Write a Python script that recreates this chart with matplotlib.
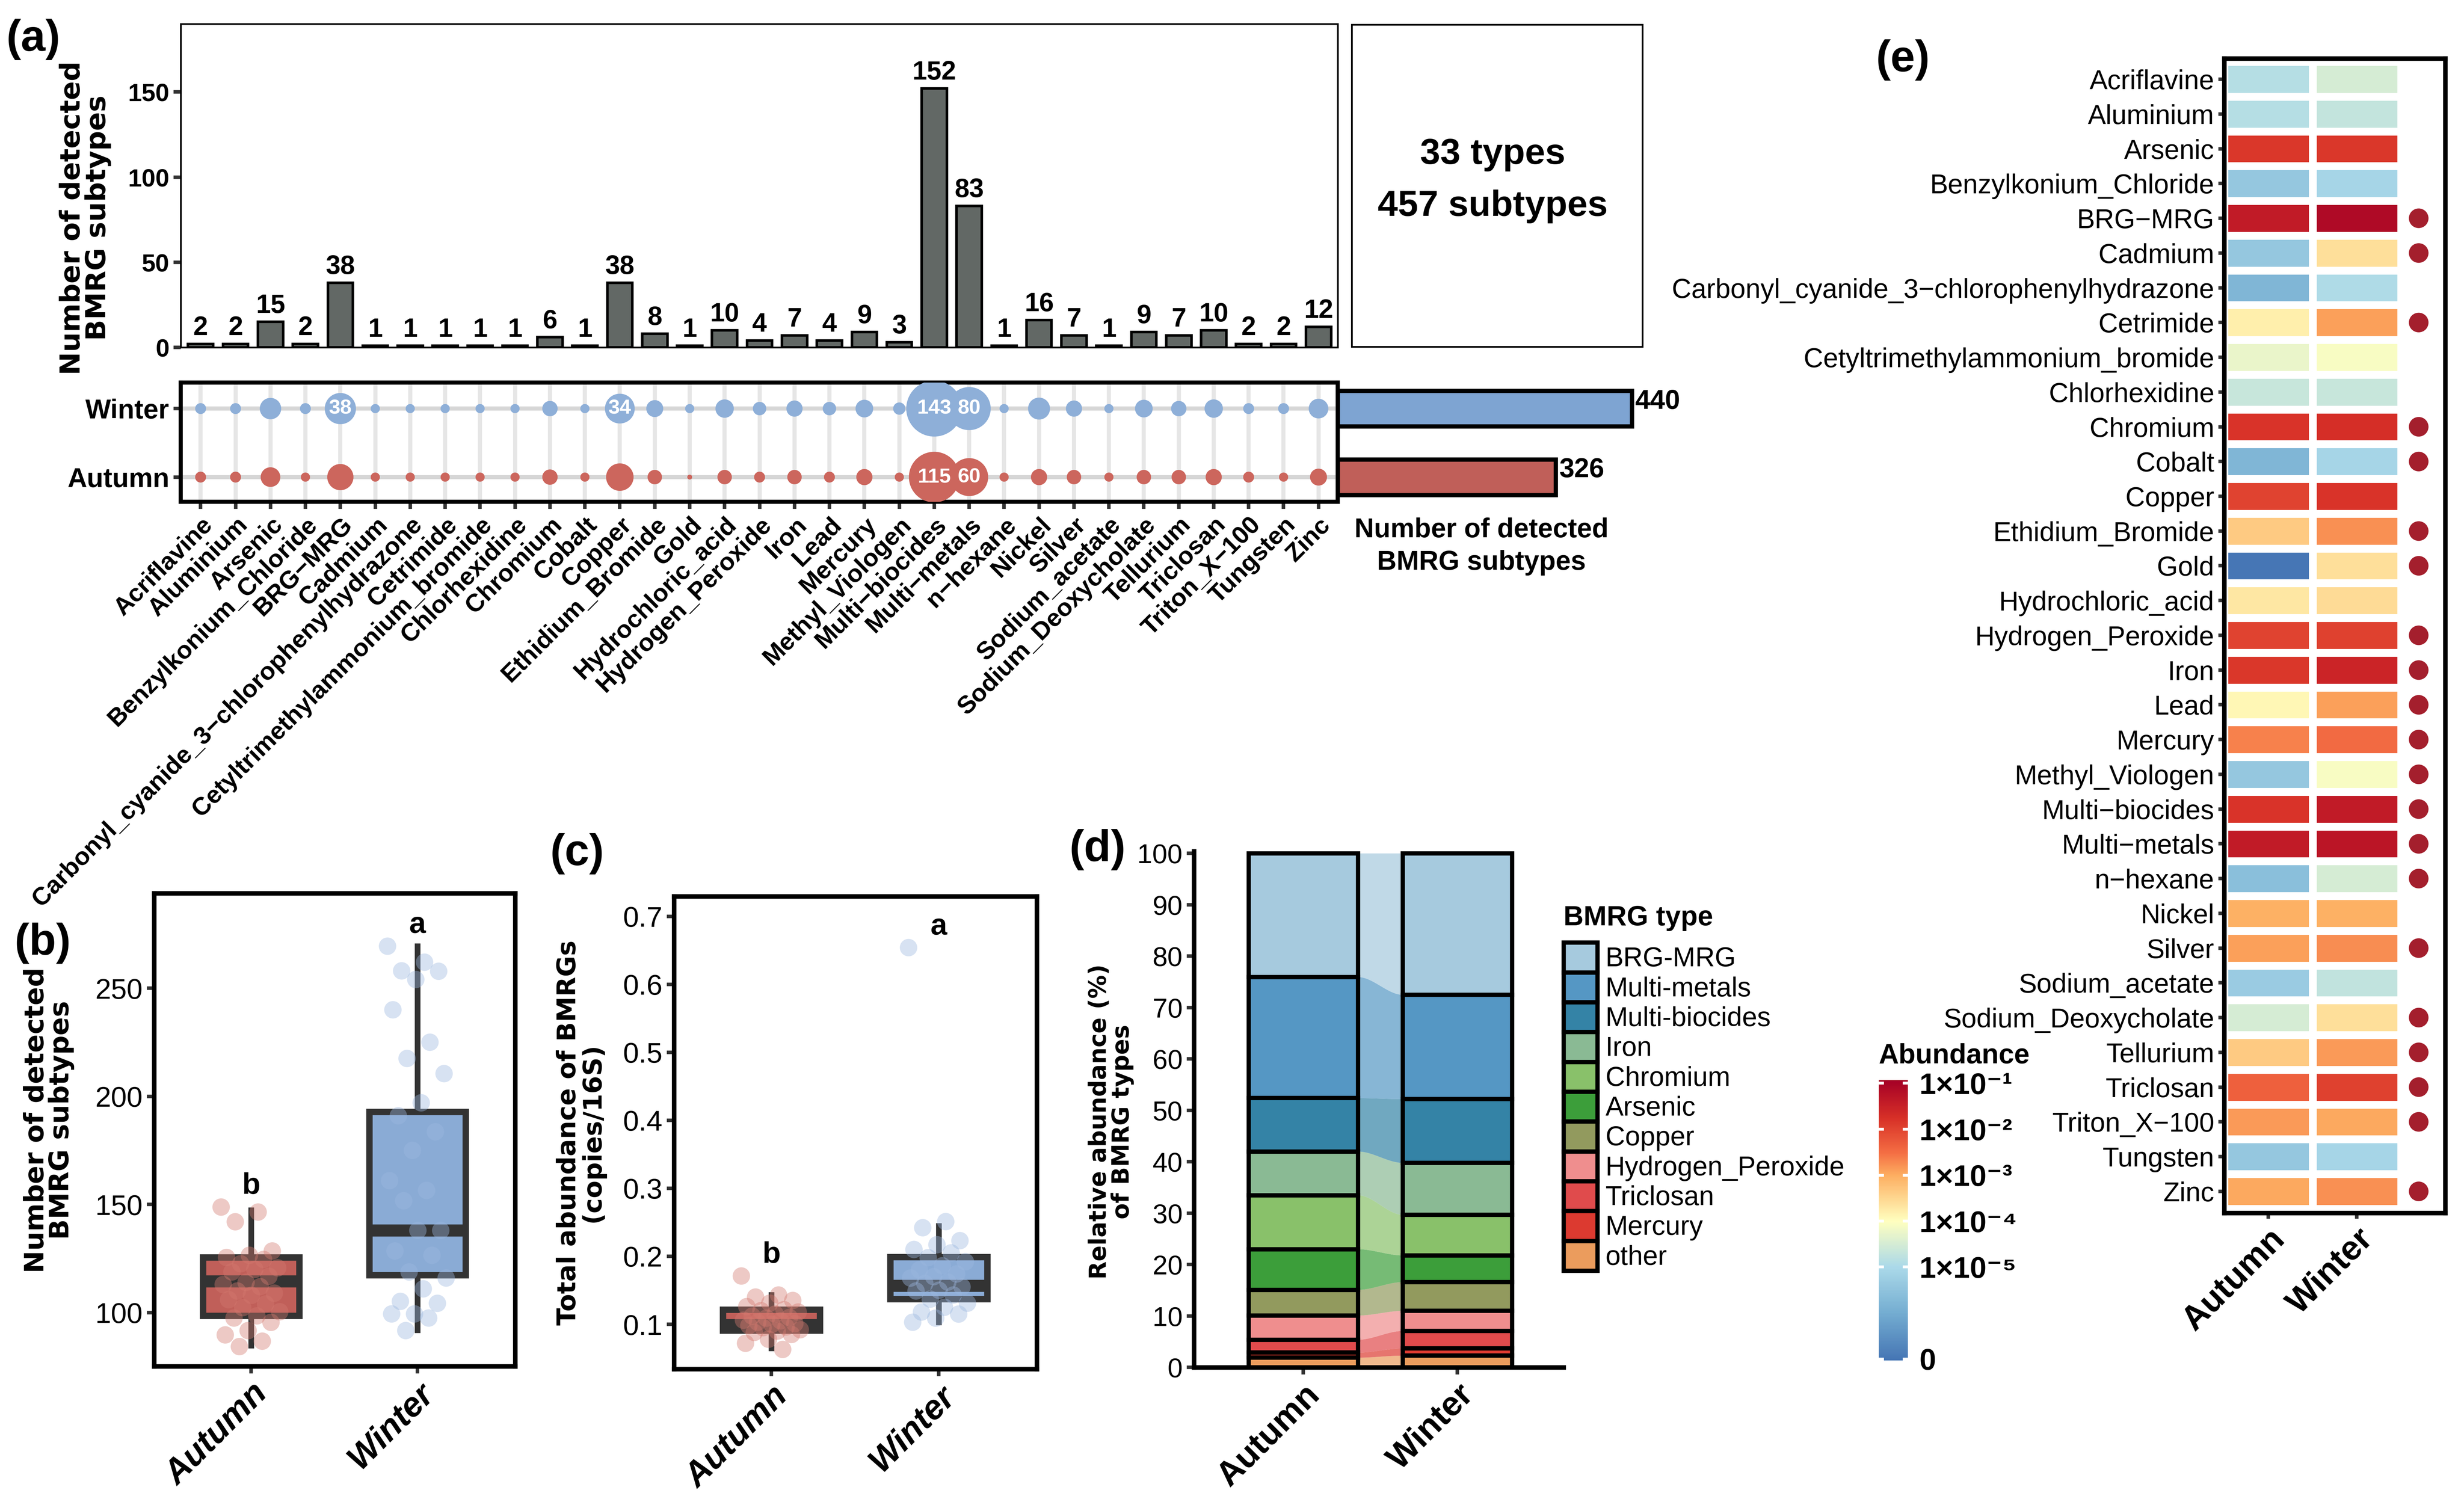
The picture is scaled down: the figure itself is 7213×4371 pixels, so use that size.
import numpy as np
import matplotlib
matplotlib.use('Agg')
import matplotlib.pyplot as plt
from matplotlib.colors import LinearSegmentedColormap, Normalize
from matplotlib.patches import Patch
from matplotlib.cm import ScalarMappable

plt.rcParams['font.family'] = ['Liberation Sans', 'DejaVu Sans']
WIDE = ['DejaVu Sans']

# ---------------- data ----------------
bmrg_types = ['Acriflavine', 'Aluminium', 'Arsenic', 'Benzylkonium_Chloride', 'BRG\u2212MRG', 'Cadmium',
              'Carbonyl_cyanide_3\u2212chlorophenylhydrazone', 'Cetrimide', 'Cetyltrimethylammonium_bromide',
              'Chlorhexidine', 'Chromium', 'Cobalt', 'Copper', 'Ethidium_Bromide', 'Gold', 'Hydrochloric_acid',
              'Hydrogen_Peroxide', 'Iron', 'Lead', 'Mercury', 'Methyl_Viologen', 'Multi\u2212biocides',
              'Multi\u2212metals', 'n\u2212hexane', 'Nickel', 'Silver', 'Sodium_acetate', 'Sodium_Deoxycholate',
              'Tellurium', 'Triclosan', 'Triton_X\u2212100', 'Tungsten', 'Zinc']
subtype_total = [2, 2, 15, 2, 38, 1, 1, 1, 1, 1, 6, 1, 38, 8, 1, 10, 4, 7, 4, 9, 3, 152, 83, 1, 16, 7, 1, 9, 7, 10, 2, 2, 12]
winter_subtypes = [2, 2, 15, 2, 38, 1, 1, 1, 1, 1, 6, 1, 34, 8, 1, 10, 4, 7, 4, 9, 3, 143, 80, 1, 16, 7, 1, 9, 6, 10, 2, 2, 12]
autumn_subtypes = [2, 2, 12, 1, 25, 1, 1, 1, 1, 1, 6, 1, 28, 5, 0, 5, 2, 5, 2, 7, 1, 115, 60, 1, 7, 5, 1, 5, 5, 7, 2, 1, 8]
seasons = ['Autumn', 'Winter']
season_subtypes = [326, 440]
summary_lines = ['33 types', '457 subtypes']

# (b) number of detected subtypes per sample
b_autumn = [148.8, 146.5, 142, 128.5, 126.5, 125.5, 124.6, 122.6, 120.7, 120, 118.8, 116.8, 114, 113, 112,
            110, 109, 108, 106, 104, 102.3, 100.4, 98.5, 97.5, 95.5, 91.7, 89.7, 86.8, 84.3]
b_winter = [269.4, 262, 258, 257.8, 254, 240, 225, 217.5, 210.5, 197, 191, 183.6, 175, 161, 156.5, 151.7,
            138, 138, 128.5, 126.5, 118.8, 116, 111, 105.2, 104.3, 99.4, 99.4, 97.5, 91.7]
b_stats = {'Autumn': [84.9, 98.5, 114.5, 125.5, 147.4], 'Winter': [92.0, 117.4, 138.1, 192.9, 269.4]}
# (c) total abundance of BMRGs
c_autumn = [0.171, 0.143, 0.14, 0.135, 0.131, 0.126, 0.1215, 0.12, 0.118, 0.115, 0.112, 0.11, 0.109, 0.106,
            0.105, 0.103, 0.101, 0.1, 0.098, 0.096, 0.095, 0.092, 0.09, 0.088, 0.085, 0.078, 0.072, 0.063]
c_winter = [0.654, 0.251, 0.242, 0.223, 0.217, 0.21, 0.205, 0.198, 0.192, 0.186, 0.18, 0.174, 0.17, 0.168,
            0.162, 0.16, 0.155, 0.15, 0.149, 0.143, 0.137, 0.131, 0.125, 0.118, 0.115, 0.109, 0.103]
c_stats = {'Autumn': [0.065, 0.0908, 0.099, 0.1215, 0.143], 'Winter': [0.103, 0.137, 0.157, 0.199, 0.2446]}
sig_letters = ['b', 'a']

# (d) relative abundance of BMRG types (%)
d_types = ['BRG-MRG', 'Multi-metals', 'Multi-biocides', 'Iron', 'Chromium', 'Arsenic', 'Copper',
           'Hydrogen_Peroxide', 'Triclosan', 'Mercury', 'other']
d_autumn = [24.05, 23.55, 10.4, 8.5, 10.5, 7.9, 5.0, 4.7, 2.5, 1.0, 1.9]
d_winter = [27.5, 20.3, 12.4, 10.1, 7.9, 5.2, 5.6, 3.9, 3.4, 1.4, 2.3]
d_colors = ['#a6cade', '#5597c4', '#3483a6', '#8aba94', '#89c16a', '#3c9e3a', '#929a5e',
            '#ef8e8e', '#e04b4c', '#dc3a30', '#eb9c5d']

# (e) abundance heatmap (copies/16S)
e_autumn = [1.3e-5, 1.3e-5, 1.4e-2, 4.0e-6, 4.0e-2, 4.0e-6, 1.6e-6, 1.6e-4, 5.6e-5, 2.2e-5, 1.6e-2, 1.6e-6,
            1.0e-2, 4.5e-4, 0.0, 2.0e-4, 1.0e-2, 1.4e-2, 1.26e-4, 2.2e-3, 4.0e-6, 1.6e-2, 4.0e-2, 2.5e-6,
            9.0e-4, 1.3e-3, 5.0e-6, 3.2e-5, 4.5e-4, 4.5e-3, 1.4e-3, 4.0e-6, 1.1e-3]
e_winter = [3.2e-5, 2.0e-5, 1.4e-2, 8.0e-6, 8.0e-2, 2.5e-4, 1.1e-5, 1.3e-3, 8.0e-5, 2.2e-5, 1.9e-2, 8.0e-6,
            1.6e-2, 1.7e-3, 2.5e-4, 2.8e-4, 1.1e-2, 2.8e-2, 1.3e-3, 3.5e-3, 8.0e-5, 4.0e-2, 5.0e-2, 3.2e-5,
            9.0e-4, 1.8e-3, 1.8e-5, 2.5e-4, 1.4e-3, 1.1e-2, 1.1e-3, 8.0e-6, 1.7e-3]
e_significant = [0, 0, 0, 0, 1, 1, 0, 1, 0, 0, 1, 1, 0, 1, 1, 0, 1, 1, 1, 1, 1, 1, 1, 1, 0, 1, 0, 1, 1, 1, 1, 0, 1]
cbar_values = [1e-1, 1e-2, 1e-3, 1e-4, 1e-5, 0]
cbar_labels = ['1\u00d710\u207b\u00b9', '1\u00d710\u207b\u00b2', '1\u00d710\u207b\u00b3',
               '1\u00d710\u207b\u2074', '1\u00d710\u207b\u2075', '0']

# ---------------- figure ----------------
W, H = 7213, 4371
fig = plt.figure(figsize=(W / 300, H / 300), dpi=300)


def rect(l, t, r, b):
    return [l / W, 1 - b / H, (r - l) / W, (b - t) / H]


def style_ticks(ax, size=19, bold=False):
    ax.tick_params(axis='both', which='major', direction='out', length=5, width=2.5,
                   color='#333333', labelsize=size, pad=3)
    for lab in ax.get_xticklabels() + ax.get_yticklabels():
        lab.set_fontweight('bold' if bold else 'normal')


def ylabel(ax, text, size, xc, yc, ls=0.95):
    ax.set_ylabel(text, family=WIDE, fontweight='bold', fontsize=size, linespacing=ls)
    ax.yaxis.label.set_va('center')
    ax.yaxis.set_label_coords(xc, yc)


DARK = '#333333'
BAR_GREY = '#626865'
WIN_DOT, AUT_DOT = '#8eafd8', '#cc665d'
WIN_BAR, AUT_BAR = '#7ea4d2', '#c05f59'

x = np.arange(len(bmrg_types))
XL = (-0.57, 32.55)

# ---- (a) top bar chart
ax_bar = fig.add_axes(rect(529, 70, 3916, 1017))
ax_bar.bar(x, subtype_total, width=0.72, color=BAR_GREY, edgecolor='black', linewidth=1.8, zorder=2)
for xi, v in zip(x, subtype_total):
    ax_bar.text(xi, v + 2, str(v), ha='center', va='bottom', fontsize=18.5, fontweight='bold')
ax_bar.set_xlim(*XL)
ax_bar.set_ylim(0, 190)
ax_bar.set_xticks([])
ax_bar.set_yticks([0, 50, 100, 150])
for s in ax_bar.spines.values():
    s.set_linewidth(1.2)
style_ticks(ax_bar, 17.5, bold=True)
ylabel(ax_bar, 'Number of detected\nBMRG subtypes', 19.5, -0.0824, 0.40)

# ---- summary box
ax_sum = fig.add_axes(rect(3957, 72, 4808, 1015))
ax_sum.set_xticks([]); ax_sum.set_yticks([])
for s in ax_sum.spines.values():
    s.set_linewidth(1.2)
ax_sum.text(0.485, 0.597, summary_lines[0], ha='center', va='center', fontsize=25.5, fontweight='bold',
            transform=ax_sum.transAxes)
ax_sum.text(0.485, 0.435, summary_lines[1], ha='center', va='center', fontsize=25.5, fontweight='bold',
            transform=ax_sum.transAxes)

# ---- dot matrix
ax_dot = fig.add_axes(rect(529, 1120, 3916, 1469))
ax_dot.set_xlim(*XL)
ax_dot.set_ylim(-0.36, 1.38)
ax_dot.set_xticks(x)
ax_dot.set_xticklabels(bmrg_types, rotation=45, ha='right', rotation_mode='anchor')
ax_dot.set_yticks([0, 1])
ax_dot.set_yticklabels(seasons)
ax_dot.set_axisbelow(True)
ax_dot.xaxis.grid(True, color='#e6e6e6', linewidth=2.9)
ax_dot.yaxis.grid(True, color='#d6d6d6', linewidth=2.9)
for s in ax_dot.spines.values():
    s.set_linewidth(2.9)
style_ticks(ax_dot, 17.6, bold=True)
for lab in ax_dot.get_yticklabels():
    lab.set_fontsize(19)


def dot_size(n):
    d_px = 14.3 + 12.5 * np.sqrt(np.asarray(n, dtype=float))
    return (d_px * 72 / 300) ** 2


for row, counts, col in [(1, winter_subtypes, WIN_DOT), (0, autumn_subtypes, AUT_DOT)]:
    ax_dot.scatter(x, np.full(len(x), row), s=dot_size(counts), color=col, edgecolors='none', zorder=3)
    for xi, c in zip(x, counts):
        if c >= 30:
            ax_dot.text(xi, row, str(c), ha='center', va='center', color='white', fontsize=14.5,
                        fontweight='bold', zorder=4)

# ---- season totals
ax_sea = fig.add_axes(rect(3916, 1120, 4934, 1469))
ax_sea.barh([0, 1], season_subtypes, height=0.52, color=[AUT_BAR, WIN_BAR], edgecolor='black', linewidth=3)
for yi, v in zip([0, 1], season_subtypes):
    ax_sea.text(v + 5, yi + 0.1, str(v), ha='left', va='center', fontsize=19, fontweight='bold')
ax_sea.set_xlim(0, 520)
ax_sea.set_ylim(-0.36, 1.38)
ax_sea.axis('off')
fig.text(4337 / W, 1 - 1600 / H, 'Number of detected\nBMRG subtypes', ha='center', va='center',
         fontsize=19, fontweight='bold', linespacing=1.35)

# ---- (b) & (c) boxplots
def boxpanel(ax, aut, win, stats, ylim, yticks, ticklabels):
    pos = [1, 2]
    bxs = []
    for p, name in zip(pos, seasons):
        lo, q1, med, q3, hi = stats[name]
        bxs.append(dict(whislo=lo, q1=q1, med=med, q3=q3, whishi=hi, fliers=[], label=name))
    res = ax.bxp(bxs, positions=pos, widths=0.58, patch_artist=True, showfliers=False, showcaps=False,
                 boxprops=dict(linewidth=4.5, edgecolor=DARK),
                 whiskerprops=dict(linewidth=4.0, color=DARK),
                 medianprops=dict(linewidth=8.5, color=DARK), zorder=2)
    for patch, fc in zip(res['boxes'], [AUT_BAR, '#8aabd5']):
        patch.set_facecolor(fc)
    rng = ylim[1] - ylim[0]
    for p, vals, col in [(1, aut, '#d47a70'), (2, win, '#9db8e0')]:
        vals = np.asarray(vals)
        jit = ((np.arange(len(vals)) * 0.6180339) % 1 - 0.5) * 0.36
        ax.scatter(p + jit, vals, s=150, color=col, alpha=0.4, edgecolors='none', zorder=3)
        ax.text(p, vals.max() + 0.015 * rng, sig_letters[p - 1], ha='center', va='bottom',
                fontsize=21, fontweight='bold')
    ax.set_xlim(0.417, 2.587)
    ax.set_ylim(*ylim)
    ax.set_yticks(yticks)
    ax.set_yticklabels(ticklabels)
    ax.set_xticks(pos)
    ax.set_xticklabels(seasons, rotation=45, ha='right', rotation_mode='anchor')
    for s in ax.spines.values():
        s.set_linewidth(3.2)
    style_ticks(ax, 20)
    for lab in ax.get_xticklabels():
        lab.set_fontweight('bold'); lab.set_fontstyle('italic'); lab.set_fontsize(24)


ax_b = fig.add_axes(rect(451, 2615, 1508, 4000))
boxpanel(ax_b, b_autumn, b_winter, b_stats, (75.2, 293.9), [100, 150, 200, 250], ['100', '150', '200', '250'])
ylabel(ax_b, 'Number of detected\nBMRG subtypes', 19, -0.291, 0.52)

ax_c = fig.add_axes(rect(1973, 2624, 3035, 4008))
boxpanel(ax_c, c_autumn, c_winter, c_stats, (0.0342, 0.7295), [0.1, 0.2, 0.3, 0.4, 0.5, 0.6, 0.7],
         ['0.1', '0.2', '0.3', '0.4', '0.5', '0.6', '0.7'])
ylabel(ax_c, 'Total abundance of BMRGs\n(copies/16S)', 18, -0.257, 0.5)

# ---- (d) stacked bars with flows
ax_d = fig.add_axes(rect(3495, 2492, 4577, 4003))
bw = 0.71
aut_stack = np.array(d_autumn[::-1])
win_stack = np.array(d_winter[::-1])
cols_stack = d_colors[::-1]
cum_a = np.concatenate([[0], np.cumsum(aut_stack)])
cum_w = np.concatenate([[0], np.cumsum(win_stack)])
xs = np.linspace(bw / 2, 1 - bw / 2, 80)
sm_t = (xs - xs[0]) / (xs[-1] - xs[0])
sm_t = sm_t * sm_t * (3 - 2 * sm_t)
for i, c in enumerate(cols_stack):
    lo = cum_a[i] + (cum_w[i] - cum_a[i]) * sm_t
    hi = cum_a[i + 1] + (cum_w[i + 1] - cum_a[i + 1]) * sm_t
    ax_d.fill_between(xs, lo, hi, color=c, alpha=0.7, linewidth=0, zorder=1)
    ax_d.bar([0, 1], [aut_stack[i], win_stack[i]], bottom=[cum_a[i], cum_w[i]], width=bw, color=c,
             edgecolor='black', linewidth=3, zorder=2)
ax_d.set_xlim(-0.71, 1.69)
ax_d.set_ylim(0, 100.4)
ax_d.set_yticks(np.arange(0, 101, 10))
ax_d.set_xticks([0, 1])
ax_d.set_xticklabels(seasons, rotation=45, ha='right', rotation_mode='anchor')
ax_d.spines['top'].set_visible(False)
ax_d.spines['right'].set_visible(False)
ax_d.spines['left'].set_linewidth(3.2)
ax_d.spines['bottom'].set_linewidth(3.2)
style_ticks(ax_d, 19)
for lab in ax_d.get_xticklabels():
    lab.set_fontweight('bold'); lab.set_fontsize(24)
ylabel(ax_d, 'Relative abundance (%)\nof BMRG types', 16.5, -0.224, 0.476, ls=1.0)
handles = [Patch(facecolor=c, edgecolor='black', linewidth=3, label=t) for t, c in zip(d_types, d_colors)]
leg = fig.legend(handles=handles, loc='upper left', bbox_to_anchor=(4577 / W, 1 - 2650 / H),
                 bbox_transform=fig.transFigure, frameon=False, fontsize=19, title='BMRG type',
                 title_fontproperties={'weight': 'bold', 'size': 19.5}, alignment='left',
                 handlelength=1.25, handleheight=1.32, labelspacing=0.0, handletextpad=0.3,
                 borderpad=0, borderaxespad=0)
leg._legend_box.sep = 8

# ---- (e) heatmap
OFFSET = 1e-7
cm_pos_v = [-7.03, -6, -5, -4, -3, -2.5, -1.75, -0.93]
cm_cols = ['#4575b4', '#74add1', '#abd9e9', '#ffffbf', '#fdae61', '#f46d43', '#d73027', '#a50026']
vmin, vmax = -7.03, -0.93
cmap = LinearSegmentedColormap.from_list(
    'abund', [((v - vmin) / (vmax - vmin), c) for v, c in zip(cm_pos_v, cm_cols)])
norm = Normalize(vmin=vmin, vmax=vmax)

ax_e = fig.add_axes(rect(6511, 171, 7158, 3551))
V = np.log10(np.column_stack([e_autumn, e_winter]) + OFFSET)
ax_e.pcolormesh([-0.5, 0.5, 1.5], np.arange(-0.5, len(bmrg_types), 1.0), V, cmap=cmap, norm=norm,
                edgecolors='white', linewidth=5.5)
sig_rows = [i for i, s in enumerate(e_significant) if s]
ax_e.scatter(np.full(len(sig_rows), 1.7), sig_rows, s=190, color='#a41f2d', edgecolors='none', zorder=3)
ax_e.set_xlim(-0.5, 2.0)
ax_e.set_ylim(32.62, -0.6)
ax_e.set_yticks(np.arange(len(bmrg_types)))
ax_e.set_yticklabels(bmrg_types)
ax_e.set_xticks([0, 1])
ax_e.set_xticklabels(seasons, rotation=45, ha='right', rotation_mode='anchor')
for s in ax_e.spines.values():
    s.set_linewidth(3.2)
style_ticks(ax_e, 19)
ax_e.tick_params(length=4, width=2.5)
for lab in ax_e.get_xticklabels():
    lab.set_fontweight('bold'); lab.set_fontsize(24)

cax = fig.add_axes(rect(5500, 3162, 5585, 3983))
sm = ScalarMappable(norm=norm, cmap=cmap)
cb = fig.colorbar(sm, cax=cax)
cb.outline.set_visible(False)
cb.set_ticks(np.log10(np.array(cbar_values) + OFFSET))
cb.set_ticklabels(cbar_labels)
cax.tick_params(direction='in', color='white', length=3.5, width=2, left=True, right=True,
                labelsize=21, pad=8)
for lab in cax.get_yticklabels():
    lab.set_fontweight('bold')
fig.text(5500 / W, 1 - 3092 / H, 'Abundance', ha='left', va='center', fontsize=19.5, fontweight='bold')

# ---- panel labels
for txt, px, py in [('(a)', 19, 115), ('(b)', 43, 2762), ('(c)', 1611, 2499), ('(d)', 3131, 2488),
                    ('(e)', 5492, 175)]:
    fig.text(px / W, 1 - py / H, txt, ha='left', va='center', fontsize=31, fontweight='bold')

fig.savefig('out.png', dpi=300)
